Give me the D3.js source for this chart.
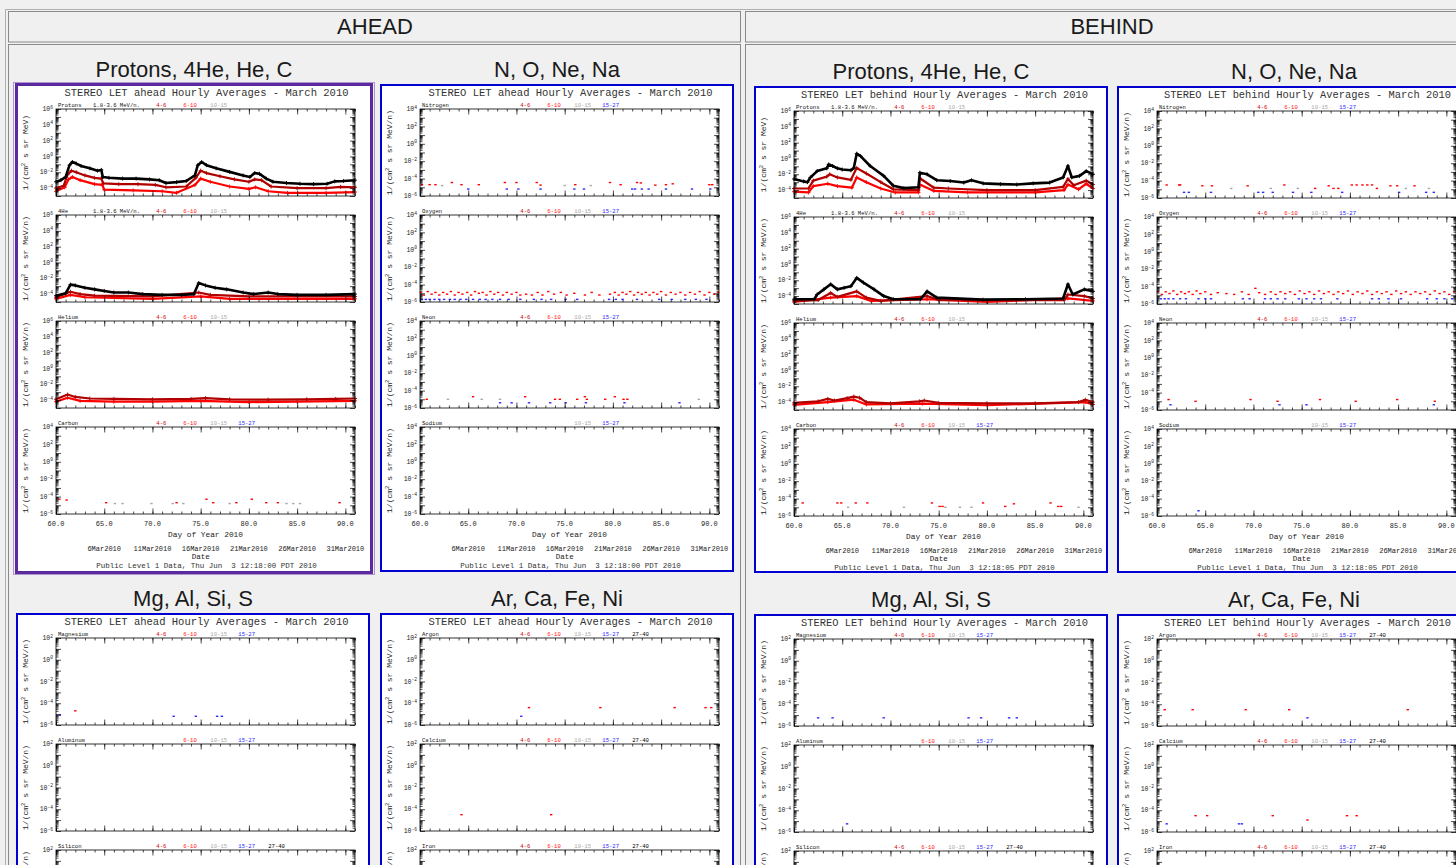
<!DOCTYPE html>
<html>
<head>
<meta charset="utf-8">
<title>STEREO LET hourly averages - March 2010</title>
<script src="https://cdn.jsdelivr.net/npm/d3@7"></script>
<style>
  body { margin: 0; background: #f0f0f0; }
  svg { display: block; }
  .idl { font-family: "Liberation Mono", "DejaVu Sans Mono", monospace; }
  .hdr { font-family: "Liberation Sans", Arial, sans-serif; }
</style>
</head>
<body>
<svg id="page" width="1456" height="865"></svg>
<script>
// values are [day of year 2010, log10 flux]

// --- AHEAD, protons / 4He / He / C
var aP_black = [[60.0,-3.2],[60.5,-3.0],[61.0,-2.6],[61.4,-1.1],[61.7,-0.7],[62.1,-0.9],[62.6,-1.2],[63.5,-1.5],[64.3,-1.8],[64.7,-1.7],[64.85,-2.6],[65.5,-2.7],[66.9,-2.8],[68.3,-2.8],[69.7,-2.9],[70.7,-3.0],[71.4,-3.35],[72.5,-3.25],[73.5,-3.1],[74.4,-2.4],[74.7,-1.1],[75.1,-0.7],[75.6,-1.1],[76.6,-1.5],[78.0,-1.95],[79.4,-2.4],[80.1,-2.6],[80.6,-2.1],[81.1,-2.2],[81.8,-2.8],[82.5,-3.2],[83.9,-3.35],[85.3,-3.45],[86.7,-3.5],[88.1,-3.45],[88.9,-3.15],[89.8,-3.1],[91.0,-3.0]];
var aP_dark = [[60.0,-4.0],[60.8,-3.7],[61.2,-2.3],[61.6,-1.8],[62.1,-2.0],[63.0,-2.4],[64.0,-2.7],[64.7,-2.8],[64.9,-3.4],[66.5,-3.5],[68.5,-3.5],[70.3,-3.6],[71.4,-3.9],[73.5,-3.8],[74.5,-2.7],[75.0,-1.8],[75.6,-2.1],[77.0,-2.5],[78.5,-2.9],[80.0,-3.2],[80.6,-2.9],[81.3,-3.0],[82.3,-3.8],[85.0,-4.0],[88.0,-4.0],[89.5,-3.85],[91.0,-3.9]];
var aP_red = [[60.0,-4.4],[60.9,-3.9],[61.3,-2.9],[61.7,-2.6],[62.5,-3.0],[64.0,-3.5],[64.8,-3.6],[65.0,-4.2],[68.0,-4.3],[71.0,-4.4],[72.5,-4.6],[74.4,-3.6],[75.0,-2.8],[76.0,-3.2],[78.0,-3.8],[80.0,-4.1],[80.7,-3.9],[82.0,-4.4],[84.0,-4.6],[88.0,-4.6],[91.0,-4.5]];
var a4_black = [[60.0,-4.2],[61.0,-3.9],[61.5,-2.8],[62.0,-2.9],[63.0,-3.2],[64.0,-3.4],[65.0,-3.6],[66.0,-3.8],[67.5,-3.8],[69.0,-4.0],[71.0,-4.1],[73.0,-4.1],[74.3,-4.0],[74.8,-2.6],[75.5,-2.9],[76.5,-3.2],[77.7,-3.4],[79.4,-3.8],[80.5,-4.0],[82.0,-3.8],[83.0,-4.0],[85.0,-4.1],[88.0,-4.1],[91.0,-4.0]];
var a4_dark = [[60.0,-4.4],[61.5,-3.7],[62.5,-4.0],[64.0,-4.2],[70.0,-4.3],[74.8,-3.8],[76.0,-4.1],[80.0,-4.3],[91.0,-4.3]];
var a4_red = [[60.0,-4.6],[61.5,-4.1],[63.0,-4.4],[70.0,-4.6],[75.0,-4.3],[78.0,-4.6],[91.0,-4.6]];
var aHe_dark = [[60.0,-3.9],[61.2,-3.3],[62.0,-3.6],[63.5,-3.8],[66.0,-3.85],[70.0,-3.9],[74.0,-3.85],[75.5,-3.75],[78.0,-3.9],[82.0,-3.95],[86.0,-3.9],[89.0,-3.85],[91.0,-3.8]];
var aHe_red = [[60.0,-4.2],[61.2,-3.7],[62.5,-4.1],[66.0,-4.2],[70.0,-4.2],[75.0,-4.1],[80.0,-4.25],[85.0,-4.2],[91.0,-4.1]];
var aC_red = [[60.35,-4.3],[61.1,-4.4],[65.2,-4.7],[72.5,-4.7],[75.6,-4.3],[76.3,-4.7],[78.7,-4.7],[80.3,-4.3],[81.8,-4.7],[83.0,-4.7],[89.4,-4.7]];
var aC_gray = [[66.1,-4.8],[66.9,-4.8],[69.9,-4.8],[72.1,-4.8],[73.2,-4.8],[78.0,-4.8],[83.9,-4.8],[84.6,-4.8],[85.3,-4.8]];

// --- AHEAD, N / O / Ne / Na
var aN_red = [[60.2,-4.7],[61.0,-4.7],[61.6,-4.7],[63.3,-4.45],[64.3,-4.7],[66.1,-4.7],[68.8,-4.45],[70.0,-4.45],[72.1,-4.45],[72.5,-4.75],[76.1,-4.7],[79.7,-4.45],[80.8,-4.7],[82.5,-4.45],[82.9,-4.5],[84.4,-4.75],[85.5,-4.7],[86.2,-4.6],[90.0,-4.7],[90.3,-4.7]];
var aN_gray = [[62.3,-4.8],[75.0,-4.8],[77.7,-4.8]];
var aN_blue = [[65.0,-5.2],[69.0,-5.2],[70.2,-5.2],[72.5,-5.2],[76.0,-5.2],[77.0,-5.2],[82.0,-5.2],[82.3,-5.2],[83.0,-5.2],[83.7,-5.2],[85.5,-5.2],[88.2,-5.2],[90.1,-5.2]];
var aO_red = [[60.1,-4.9],[60.4,-5.2],[60.8,-4.8],[61.2,-5.1],[61.6,-4.9],[62.0,-5.2],[62.4,-4.9],[62.8,-5.1],[63.2,-4.8],[63.6,-5.2],[64.0,-4.9],[64.4,-5.1],[64.9,-4.9],[65.3,-5.2],[65.7,-4.8],[66.1,-5.0],[66.5,-4.9],[66.9,-5.2],[67.3,-4.8],[67.7,-5.1],[68.1,-4.9],[68.6,-5.2],[69.0,-4.9],[69.5,-5.1],[70.0,-4.9],[70.4,-5.2],[71.0,-5.1],[71.6,-5.2],[72.2,-4.9],[72.7,-5.2],[73.3,-4.8],[73.9,-5.1],[74.6,-4.9],[75.2,-5.2],[76.0,-5.0],[77.1,-5.2],[77.8,-4.9],[78.6,-5.2],[79.7,-5.1],[80.2,-4.9],[80.6,-5.2],[81.0,-4.9],[81.4,-5.1],[81.8,-4.8],[82.2,-5.2],[82.6,-4.9],[83.0,-5.1],[83.4,-4.9],[83.8,-5.2],[84.2,-4.9],[84.6,-5.1],[85.0,-4.8],[85.5,-5.2],[86.0,-4.9],[86.5,-5.1],[87.0,-4.9],[87.5,-5.2],[88.0,-4.9],[88.5,-5.1],[89.0,-4.8],[89.5,-5.2],[90.0,-4.9],[90.5,-5.1],[90.9,-4.9]];
var aO_blue = [[60.2,-5.7],[60.6,-5.7],[61.0,-5.7],[61.5,-5.7],[62.0,-5.7],[62.5,-5.7],[63.1,-5.7],[63.6,-5.7],[64.2,-5.7],[64.8,-5.7],[65.5,-5.7],[66.2,-5.7],[66.8,-5.7],[67.5,-5.7],[68.3,-5.7],[69.2,-5.7],[70.4,-5.7],[71.8,-5.7],[72.6,-5.7],[73.6,-5.7],[75.1,-5.7],[76.3,-5.7],[79.6,-5.7],[80.3,-5.7],[81.0,-5.7],[82.5,-5.7],[84.8,-5.7],[86.1,-5.7],[87.5,-5.7],[88.6,-5.7],[89.7,-5.7]];
var aNe_red = [[60.7,-5.0],[65.5,-4.7],[70.9,-4.7],[74.0,-5.0],[74.5,-5.0],[76.3,-5.0],[77.1,-4.7],[77.3,-5.0],[79.2,-5.0],[80.2,-4.7],[81.1,-5.0],[81.5,-5.0]];
var aNe_gray = [[62.9,-5.0],[66.4,-5.0],[68.3,-5.0],[88.9,-5.0]];
var aNe_blue = [[68.3,-5.4],[69.5,-5.4],[71.3,-5.4],[73.5,-5.4],[75.1,-5.4],[77.2,-5.4],[81.2,-5.4],[86.9,-5.4]];

// --- AHEAD, Mg.. / Ar..
var aMg_red = [[62.0,-4.7]];
var aMg_blue = [[60.4,-5.1],[72.2,-5.2],[74.5,-5.2],[76.7,-5.2],[77.2,-5.2]];
var aAr_red = [[71.3,-4.4],[78.7,-4.4],[86.4,-4.4],[89.6,-4.4],[90.2,-4.4]];
var aAr_blue = [[70.5,-5.2]];
var aCa_red = [[64.3,-4.5],[73.6,-4.5]];

// --- BEHIND, protons / 4He / He / C
var bP_black = [[60.0,-2.6],[61.0,-2.9],[61.4,-3.0],[61.7,-2.4],[62.4,-1.6],[63.4,-1.25],[63.6,-0.75],[64.0,-0.95],[64.5,-1.25],[65.0,-1.4],[65.9,-1.5],[66.2,-1.2],[66.5,0.6],[66.9,0.3],[67.9,-0.95],[69.3,-2.2],[70.3,-3.45],[71.4,-3.75],[72.9,-3.65],[73.05,-1.8],[73.8,-2.0],[74.8,-2.75],[76.2,-2.85],[77.6,-3.05],[78.4,-2.75],[79.6,-3.15],[81.4,-3.25],[83.1,-3.3],[84.8,-3.15],[86.5,-3.05],[87.9,-2.4],[88.4,-0.95],[88.8,-2.4],[89.6,-2.2],[90.3,-1.6],[91.0,-2.0]];
var bP_dark = [[60.0,-3.8],[61.5,-3.8],[62.0,-2.8],[63.4,-2.3],[63.7,-2.0],[64.5,-2.4],[65.9,-2.7],[66.5,-1.2],[67.5,-1.9],[69.0,-3.0],[70.3,-3.9],[72.9,-4.0],[73.05,-2.5],[74.5,-3.7],[76.0,-3.8],[80.0,-4.0],[85.0,-4.0],[87.9,-3.6],[88.4,-2.6],[89.0,-3.4],[90.3,-2.8],[91.0,-3.3]];
var bP_red = [[60.0,-4.2],[61.5,-4.3],[62.0,-3.5],[63.5,-3.2],[64.5,-3.5],[66.0,-3.7],[66.5,-2.4],[67.5,-3.0],[69.0,-3.8],[70.5,-4.3],[72.9,-4.3],[73.05,-3.3],[74.5,-4.1],[78.0,-4.3],[85.0,-4.3],[88.0,-4.0],[88.4,-3.3],[89.5,-3.9],[90.3,-3.2],[91.0,-3.8]];
var b4_black = [[60.0,-4.4],[62.1,-4.4],[62.4,-3.8],[63.1,-3.15],[63.8,-2.5],[64.5,-3.15],[65.2,-2.95],[65.9,-2.75],[66.5,-1.7],[67.2,-2.3],[68.3,-3.15],[69.3,-4.0],[70.3,-4.4],[73.1,-4.4],[73.8,-3.4],[74.8,-4.2],[79.6,-4.45],[84.0,-4.4],[87.9,-4.3],[88.4,-2.5],[88.9,-3.8],[90.1,-3.15],[91.0,-3.4]];
var b4_dark = [[60.0,-4.6],[62.5,-4.5],[63.8,-3.6],[64.5,-4.1],[66.5,-3.4],[67.5,-4.2],[69.0,-4.6],[73.8,-4.0],[75.0,-4.5],[88.0,-4.5],[88.4,-3.8],[90.1,-4.0],[91.0,-4.3]];
var b4_red = [[60.0,-4.75],[63.8,-4.2],[66.5,-4.0],[68.0,-4.6],[73.8,-4.4],[80.0,-4.75],[88.4,-4.3],[91.0,-4.6]];
var bHe_dark = [[60.0,-4.1],[62.5,-3.9],[63.5,-3.6],[64.2,-3.8],[65.5,-3.5],[66.2,-3.3],[66.8,-3.45],[67.5,-4.0],[70.0,-4.15],[73.0,-3.9],[73.5,-3.8],[75.0,-4.1],[80.0,-4.15],[85.0,-4.15],[89.5,-4.0],[90.2,-3.7],[91.0,-4.0]];
var bHe_red = [[60.0,-4.35],[63.5,-4.0],[66.2,-3.7],[67.5,-4.3],[73.3,-4.2],[80.0,-4.4],[90.2,-4.0],[91.0,-4.3]];
var bC_red = [[60.9,-4.5],[64.5,-4.5],[64.9,-4.5],[66.4,-4.5],[67.6,-4.5],[74.3,-4.5],[75.1,-4.9],[75.4,-4.9],[79.6,-4.5],[81.9,-4.9],[82.8,-4.6],[86.6,-4.5],[87.4,-4.9],[87.7,-4.9]];
var bC_gray = [[65.6,-5.0],[71.4,-5.0],[75.7,-5.0],[77.2,-5.0],[78.4,-5.0],[89.5,-5.0]];

// --- BEHIND, N / O / Ne / Na
var bN_red = [[61.0,-4.5],[62.3,-4.5],[62.4,-4.5],[64.7,-4.6],[65.7,-4.6],[69.4,-4.6],[73.2,-4.5],[76.4,-4.9],[77.8,-4.6],[78.3,-4.9],[78.8,-4.9],[80.2,-4.5],[80.7,-4.5],[81.3,-4.5],[81.8,-4.5],[82.3,-4.5],[82.8,-4.9],[84.2,-4.6],[84.9,-4.6],[86.7,-4.6]];
var bN_gray = [[67.7,-4.9],[71.8,-4.9],[74.6,-4.9],[85.8,-4.9],[88.2,-4.9]];
var bN_blue = [[62.8,-5.35],[63.3,-5.35],[65.6,-5.35],[70.5,-5.35],[71.0,-5.35],[72.0,-5.35],[74.1,-5.35],[76.0,-5.35],[79.2,-5.35],[85.1,-5.35],[87.9,-5.35],[88.7,-5.35]];
var bO_red = [[60.1,-4.6],[60.5,-4.9],[60.9,-4.6],[61.3,-4.8],[61.7,-4.5],[62.1,-4.9],[62.5,-4.6],[62.9,-4.8],[63.3,-4.6],[63.7,-4.9],[64.1,-4.5],[64.5,-4.8],[65.0,-4.6],[65.6,-4.9],[66.3,-4.7],[67.2,-4.8],[68.0,-4.9],[68.8,-4.6],[69.5,-4.9],[70.2,-4.2],[70.6,-4.7],[71.2,-4.9],[71.8,-4.6],[72.3,-4.9],[72.8,-4.6],[73.3,-4.8],[73.8,-4.6],[74.3,-4.9],[74.8,-4.5],[75.3,-4.8],[75.8,-4.6],[76.3,-4.9],[76.8,-4.5],[77.3,-4.8],[77.8,-4.6],[78.3,-4.9],[78.8,-4.6],[79.3,-4.8],[79.8,-4.5],[80.3,-4.9],[80.8,-4.6],[81.3,-4.8],[81.8,-4.5],[82.3,-4.9],[82.8,-4.6],[83.3,-4.8],[83.8,-4.6],[84.3,-4.9],[84.8,-4.5],[85.3,-4.8],[85.8,-4.6],[86.3,-4.9],[86.8,-4.6],[87.3,-4.8],[87.8,-4.6],[88.3,-4.9],[88.8,-4.5],[89.3,-4.8],[89.8,-4.6],[90.3,-4.9],[90.8,-4.6]];
var bO_blue = [[60.4,-5.4],[60.8,-5.4],[61.2,-5.4],[61.7,-5.4],[62.4,-5.4],[63.0,-5.4],[64.3,-5.4],[65.0,-5.4],[65.6,-5.4],[68.9,-5.4],[69.6,-5.4],[71.2,-5.4],[71.8,-5.4],[72.5,-5.4],[73.3,-5.4],[74.7,-5.4],[75.5,-5.4],[76.3,-5.4],[77.0,-5.4],[78.7,-5.4],[82.3,-5.4],[83.0,-5.4],[84.0,-5.4],[85.3,-5.4],[88.0,-5.4],[89.0,-5.4],[89.8,-5.4],[90.6,-5.4]];
var bNe_red = [[61.2,-4.8],[64.0,-5.0],[69.7,-4.8],[72.5,-5.0],[76.9,-4.8],[80.6,-5.0],[84.9,-4.8],[88.8,-5.0]];
var bNe_blue = [[61.4,-5.4],[72.7,-5.4],[75.5,-5.4],[88.7,-5.4]];
var bNa_blue = [[64.3,-5.4]];

// --- BEHIND, Mg.. / Ar..
var bMg_blue = [[62.5,-5.25],[64.0,-5.25],[69.3,-5.25],[78.1,-5.25],[79.4,-5.25],[82.3,-5.25],[83.1,-5.25]];
var bAl_blue = [[65.5,-5.25]];
var bAr_red = [[60.8,-4.5],[63.7,-4.5],[69.2,-4.5],[73.7,-4.5],[86.0,-4.5]];
var bAr_blue = [[75.6,-5.25]];
var bCa_red = [[64.0,-4.5],[65.2,-4.5],[72.0,-4.5],[75.6,-4.9],[79.7,-4.5],[80.7,-4.5]];
var bCa_blue = [[61.0,-5.25],[68.5,-5.25],[68.8,-5.25]];

// labels / ticks
var binNames = ['4-6', '6-10', '10-15', '15-27', '27-40'];
var binColors = ['#cc0000', '#ff1010', '#a8a8a8', '#2a2aff', '#000000'];
var binLabelDay = [70.4, 73.2, 76.0, 78.9, 82.0];
var dayTicks = [60, 65, 70, 75, 80, 85, 90];
var dateDays = [65, 70, 75, 80, 85, 90];
var dateLabels = ['6Mar2010', '11Mar2010', '16Mar2010', '21Mar2010', '26Mar2010', '31Mar2010'];

var BLACK = '#000000', DARK = '#b00000', RED = '#ff0000', GRAY = '#a8a8a8', BLUE = '#2a2aff';

// plot geometry inside one panel image
var L = 38, R = 337, H = 87;
var subTops = [23, 129, 235, 341];

var svg = d3.select('#page');

function sub(name, bins, exp, opts) {
    return Object.assign({name: name, bins: bins, exp: exp, unit: 'MeV/n', energy: '', lines: [], pts: []}, opts || {});
}

function drawSub(g, s, top, footer, stamp) {
    var x = d3.scaleLinear().domain([60, 91]).range([L, R]);
    var y = d3.scaleLog().domain([Math.pow(10, s.exp[0]), Math.pow(10, s.exp[1])]).range([top + H, top]);
    var decades = d3.range(s.exp[0], s.exp[1] + 1).map(function(e) { return Math.pow(10, e); });
    var minors = [];
    decades.slice(0, -1).forEach(function(d) { for (var k = 2; k < 10; k++) minors.push(d * k); });

    var line = d3.line()
        .x(function(d) { return x(d[0]); })
        .y(function(d) { return y(Math.pow(10, d[1])); });

    // lines drawn back to front: red, dark red, black
    s.lines.slice().reverse().forEach(function(ln) {
        g.append('path').datum(ln[0])
            .attr('fill', 'none').attr('stroke', ln[1])
            .attr('stroke-width', ln[1] === BLACK ? 2.6 : 2.2)
            .attr('stroke-linejoin', 'round')
            .attr('d', line);
        g.selectAll(null).data(ln[0]).enter().append('path')
            .attr('transform', function(d) { return 'translate(' + x(d[0]) + ',' + y(Math.pow(10, d[1])) + ')'; })
            .attr('d', 'M-2,0h4M0,-2v4')
            .attr('stroke', ln[1]).attr('stroke-width', 0.9);
    });
    s.pts.forEach(function(p) {
        g.selectAll(null).data(p[0]).enter().append('rect')
            .attr('x', function(d) { return x(d[0]) - 1.2; })
            .attr('y', function(d) { return y(Math.pow(10, d[1])) - 0.7; })
            .attr('width', 2.4).attr('height', 1.4)
            .attr('fill', p[1]);
    });

    function ax(axis, tx, ty) {
        g.append('g').attr('transform', 'translate(' + tx + ',' + ty + ')').call(axis)
            .call(function(a) {
                a.select('.domain').remove();
                a.selectAll('text').remove();
                a.selectAll('line').attr('stroke', '#000').attr('stroke-width', 0.7);
            });
    }
    var minorDays = d3.range(60, 92);
    ax(d3.axisBottom(x).tickValues(minorDays).tickSize(-2.5), 0, top + H);
    ax(d3.axisBottom(x).tickValues(dayTicks).tickSize(-5.5), 0, top + H);
    ax(d3.axisTop(x).tickValues(minorDays).tickSize(-2.5), 0, top);
    ax(d3.axisTop(x).tickValues(dayTicks).tickSize(-5.5), 0, top);
    ax(d3.axisLeft(y).tickValues(minors).tickSize(-2.5), L, 0);
    ax(d3.axisLeft(y).tickValues(decades).tickSize(-5), L, 0);
    ax(d3.axisRight(y).tickValues(minors).tickSize(-2.5), R, 0);
    ax(d3.axisRight(y).tickValues(decades).tickSize(-5), R, 0);

    g.append('rect').attr('x', L).attr('y', top).attr('width', R - L).attr('height', H)
        .attr('fill', 'none').attr('stroke', '#000').attr('stroke-width', 0.8);

    // y tick labels 10^n on every second decade
    d3.range(s.exp[0], s.exp[1] + 1).filter(function(e) { return e % 2 === 0; }).forEach(function(e) {
        var t = g.append('text').attr('class', 'idl')
            .attr('x', L - 3).attr('y', y(Math.pow(10, e)) + 2.2)
            .attr('text-anchor', 'end').attr('font-size', 6.5).attr('fill', '#222');
        t.append('tspan').text('10');
        t.append('tspan').attr('dy', -2.6).attr('font-size', 4.6).text(String(e));
    });

    // element name and energy bins above the frame
    g.append('text').attr('class', 'idl').attr('x', L + 2).attr('y', top - 2)
        .attr('font-size', 5.6).attr('fill', '#111').text(s.name);
    if (s.energy) {
        g.append('text').attr('class', 'idl').attr('x', L + 37).attr('y', top - 2)
            .attr('font-size', 5.6).attr('fill', '#111').text(s.energy);
    }
    s.bins.forEach(function(b) {
        g.append('text').attr('class', 'idl').attr('x', x(binLabelDay[b])).attr('y', top - 2)
            .attr('font-size', 5.6).attr('fill', binColors[b]).text(binNames[b]);
    });

    // rotated unit label
    var u = g.append('text').attr('class', 'idl')
        .attr('transform', 'translate(10,' + (top + H / 2) + ') rotate(-90)')
        .attr('text-anchor', 'middle').attr('font-size', 8).attr('fill', '#222');
    u.append('tspan').text('1/(cm');
    u.append('tspan').attr('dy', -3).attr('font-size', 5.5).text('2');
    u.append('tspan').attr('dy', 3).text(' s sr ' + s.unit + ')');

    if (footer) {
        dayTicks.forEach(function(d) {
            g.append('text').attr('class', 'idl').attr('x', x(d)).attr('y', top + H + 12)
                .attr('text-anchor', 'middle').attr('font-size', 7).attr('fill', '#222')
                .text(d3.format('.1f')(d));
        });
        g.append('text').attr('class', 'idl').attr('x', (L + R) / 2).attr('y', top + H + 23)
            .attr('text-anchor', 'middle').attr('font-size', 7.8).attr('fill', '#222').text('Day of Year 2010');
        dateDays.forEach(function(d, i) {
            g.append('text').attr('class', 'idl').attr('x', x(d)).attr('y', top + H + 37)
                .attr('text-anchor', 'middle').attr('font-size', 7).attr('fill', '#222').text(dateLabels[i]);
        });
        g.append('text').attr('class', 'idl').attr('x', x(75)).attr('y', top + H + 45)
            .attr('text-anchor', 'middle').attr('font-size', 7.5).attr('fill', '#222').text('Date');
        g.append('text').attr('class', 'idl').attr('x', (L + R) / 2 + 1).attr('y', top + H + 54)
            .attr('text-anchor', 'middle').attr('font-size', 7.5).attr('fill', '#333')
            .style('white-space', 'pre')
            .text('Public Level 1 Data, Thu Jun  3 ' + stamp + ' PDT 2010');
    }
}

var panelCount = 0;
// visible: number of sub-plots that fall inside the window
function drawPanel(px, py, w, h, heading, side, subs, stamp, focus, visible) {
    var id = 'clip' + (panelCount++);
    svg.append('text').attr('class', 'hdr').attr('x', px + w / 2).attr('y', py - 7)
        .attr('text-anchor', 'middle').attr('font-size', 22).attr('fill', '#1a1a1a').text(heading);

    svg.append('clipPath').attr('id', id).append('rect')
        .attr('x', 0).attr('y', 0).attr('width', w - 4).attr('height', h - 4);
    var g = svg.append('g').attr('transform', 'translate(' + (px + 2) + ',' + (py + 2) + ')')
        .attr('clip-path', 'url(#' + id + ')');
    g.append('rect').attr('width', w - 4).attr('height', h - 4).attr('fill', '#fff');

    var title = 'STEREO LET ' + side + ' Hourly Averages - March 2010';
    g.append('text').attr('class', 'idl').attr('x', (L + R) / 2 + 1).attr('y', 10)
        .attr('text-anchor', 'middle').attr('font-size', 10.5).attr('fill', '#333')
        .attr('textLength', side === 'ahead' ? 284 : 287).attr('lengthAdjust', 'spacingAndGlyphs')
        .text(title);

    subs.slice(0, visible).forEach(function(s, i) {
        drawSub(g, s, subTops[i], i === subs.length - 1, stamp);
    });

    if (focus) {
        svg.append('rect').attr('x', px - 2.5).attr('y', py - 1.5).attr('width', w + 5).attr('height', h + 3)
            .attr('fill', 'none').attr('stroke', '#6a3ab0').attr('stroke-width', 1).attr('stroke-dasharray', '1,1');
        svg.append('rect').attr('x', px + 0.5).attr('y', py + 0.5).attr('width', w - 1).attr('height', h - 1)
            .attr('fill', 'none').attr('stroke', '#5a2a9e').attr('stroke-width', 3);
    } else {
        svg.append('rect').attr('x', px + 1).attr('y', py + 1).attr('width', w - 2).attr('height', h - 2)
            .attr('fill', 'none').attr('stroke', '#0000d0').attr('stroke-width', 2);
    }
}

// page frame: two header cells and two content cells
svg.append('rect').attr('x', 5.5).attr('y', 9.5).attr('width', 1460).attr('height', 870)
    .attr('fill', 'none').attr('stroke', '#b0b0b0');
[[8.5, 732, 'AHEAD'], [745.5, 720, 'BEHIND']].forEach(function(c) {
    svg.append('rect').attr('x', c[0]).attr('y', 11.5).attr('width', c[1]).attr('height', 30.5)
        .attr('fill', '#f0f0f0').attr('stroke', '#8a8a8a');
    svg.append('rect').attr('x', c[0]).attr('y', 44.5).attr('width', c[1]).attr('height', 840)
        .attr('fill', '#f0f0f0').attr('stroke', '#8a8a8a');
    svg.append('text').attr('class', 'hdr').attr('x', c[0] + 366.5).attr('y', 34)
        .attr('text-anchor', 'middle').attr('font-size', 22).attr('fill', '#1a1a1a').text(c[2]);
});

var aheadLight = [
    sub('Protons', [0, 1, 2], [-5, 6], {unit: 'MeV', energy: '1.8-3.6 MeV/n.', lines: [[aP_black, BLACK], [aP_dark, DARK], [aP_red, RED]]}),
    sub('4He', [0, 1, 2], [-5, 6], {energy: '1.8-3.6 MeV/n.', lines: [[a4_black, BLACK], [a4_dark, DARK], [a4_red, RED]]}),
    sub('Helium', [0, 1, 2], [-5, 6], {lines: [[aHe_dark, DARK], [aHe_red, RED]]}),
    sub('Carbon', [0, 1, 2, 3], [-6, 4], {pts: [[aC_gray, GRAY], [aC_red, RED]]})
];
var aheadCNO = [
    sub('Nitrogen', [0, 1, 2, 3], [-6, 4], {pts: [[aN_gray, GRAY], [aN_red, RED], [aN_blue, BLUE]]}),
    sub('Oxygen', [0, 1, 2, 3], [-6, 4], {pts: [[aO_red, RED], [aO_blue, BLUE]]}),
    sub('Neon', [0, 1, 2, 3], [-6, 4], {pts: [[aNe_gray, GRAY], [aNe_red, RED], [aNe_blue, BLUE]]}),
    sub('Sodium', [2, 3], [-6, 4])
];
var aheadMg = [
    sub('Magnesium', [0, 1, 2, 3], [-6, 2], {pts: [[aMg_red, RED], [aMg_blue, BLUE]]}),
    sub('Aluminum', [1, 2, 3], [-6, 2]),
    sub('Silicon', [0, 1, 2, 3, 4], [-6, 2]),
    sub('Sulfur', [0, 1, 2, 3, 4], [-6, 2])
];
var aheadAr = [
    sub('Argon', [0, 1, 2, 3, 4], [-6, 2], {pts: [[aAr_red, RED], [aAr_blue, BLUE]]}),
    sub('Calcium', [0, 1, 2, 3, 4], [-6, 2], {pts: [[aCa_red, RED]]}),
    sub('Iron', [0, 1, 2, 3, 4], [-6, 2]),
    sub('Nickel', [0, 1, 2, 3, 4], [-6, 2])
];
var behindLight = [
    sub('Protons', [0, 1, 2], [-5, 6], {unit: 'MeV', energy: '1.8-3.6 MeV/n.', lines: [[bP_black, BLACK], [bP_dark, DARK], [bP_red, RED]]}),
    sub('4He', [0, 1, 2], [-5, 6], {energy: '1.8-3.6 MeV/n.', lines: [[b4_black, BLACK], [b4_dark, DARK], [b4_red, RED]]}),
    sub('Helium', [0, 1, 2], [-5, 6], {lines: [[bHe_dark, DARK], [bHe_red, RED]]}),
    sub('Carbon', [0, 1, 2, 3], [-6, 4], {pts: [[bC_gray, GRAY], [bC_red, RED]]})
];
var behindCNO = [
    sub('Nitrogen', [0, 1, 2, 3], [-6, 4], {pts: [[bN_gray, GRAY], [bN_red, RED], [bN_blue, BLUE]]}),
    sub('Oxygen', [0, 1, 2, 3], [-6, 4], {pts: [[bO_red, RED], [bO_blue, BLUE]]}),
    sub('Neon', [0, 1, 2, 3], [-6, 4], {pts: [[bNe_red, RED], [bNe_blue, BLUE]]}),
    sub('Sodium', [2, 3], [-6, 4], {pts: [[bNa_blue, BLUE]]})
];
var behindMg = [
    sub('Magnesium', [0, 1, 2, 3], [-6, 2], {pts: [[bMg_blue, BLUE]]}),
    sub('Aluminum', [1, 2, 3], [-6, 2], {pts: [[bAl_blue, BLUE]]}),
    sub('Silicon', [0, 1, 2, 3, 4], [-6, 2]),
    sub('Sulfur', [0, 1, 2, 3, 4], [-6, 2])
];
var behindAr = [
    sub('Argon', [0, 1, 2, 3, 4], [-6, 2], {pts: [[bAr_red, RED], [bAr_blue, BLUE]]}),
    sub('Calcium', [0, 1, 2, 3, 4], [-6, 2], {pts: [[bCa_red, RED], [bCa_blue, BLUE]]}),
    sub('Iron', [0, 1, 2, 3, 4], [-6, 2]),
    sub('Nickel', [0, 1, 2, 3, 4], [-6, 2])
];

drawPanel(16, 84, 356, 489, 'Protons, 4He, He, C', 'ahead', aheadLight, '12:18:00', true, 4);
drawPanel(380, 84, 354, 488, 'N, O, Ne, Na', 'ahead', aheadCNO, '12:18:00', false, 4);
drawPanel(16, 613, 354, 489, 'Mg, Al, Si, S', 'ahead', aheadMg, '12:18:00', false, 3);
drawPanel(380, 613, 354, 489, 'Ar, Ca, Fe, Ni', 'ahead', aheadAr, '12:18:00', false, 3);
drawPanel(754, 86, 354, 487, 'Protons, 4He, He, C', 'behind', behindLight, '12:18:05', false, 4);
drawPanel(1117, 86, 354, 487, 'N, O, Ne, Na', 'behind', behindCNO, '12:18:05', false, 4);
drawPanel(754, 614, 354, 489, 'Mg, Al, Si, S', 'behind', behindMg, '12:18:05', false, 3);
drawPanel(1117, 614, 354, 489, 'Ar, Ca, Fe, Ni', 'behind', behindAr, '12:18:05', false, 3);
</script>
</body>
</html>
